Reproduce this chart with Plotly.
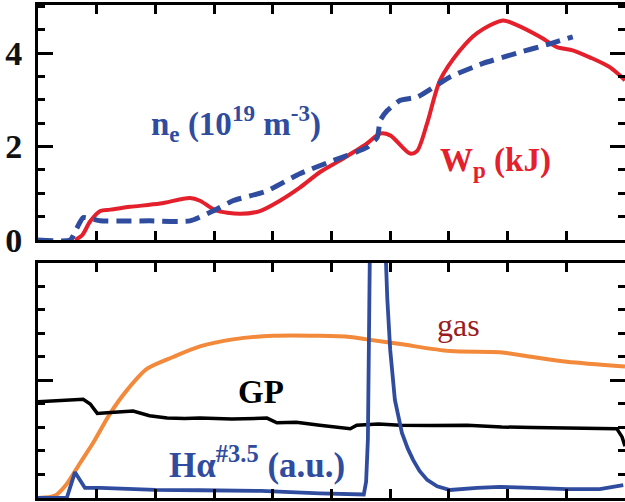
import plotly.graph_objects as go

# ---- top panel data ----
wp_x = [0.0, 0.63, 0.75, 0.89, 1.06, 1.23, 1.57, 2.08, 2.59, 2.76, 3.02, 3.44, 3.78, 4.12, 4.46,
        4.80, 5.14, 5.60, 5.83, 6.00, 6.34, 6.46, 6.63, 6.85, 7.19, 7.48, 7.92, 8.16, 8.55, 8.84,
        9.11, 9.40, 9.74, 10.0]
wp_y = [None, 0.0, 0.1, 0.4, 0.62, 0.65, 0.71, 0.78, 0.90, 0.84, 0.64, 0.56, 0.62, 0.84, 1.12,
        1.45, 1.70, 2.06, 2.28, 2.24, 1.85, 1.91, 2.50, 3.42, 4.06, 4.43, 4.70, 4.60, 4.35, 4.13,
        4.06, 3.91, 3.70, 3.42]

ne_x = [0.0, 0.55, 0.66, 0.77, 1.06, 1.90, 2.59, 2.98, 3.32, 3.90, 4.46, 5.03, 5.60, 5.78, 5.83,
        5.95, 6.17, 6.46, 7.02, 7.58, 8.16, 8.72, 9.11]
ne_y = [0.0, 0.0, 0.25, 0.48, 0.41, 0.41, 0.41, 0.62, 0.84, 1.05, 1.42, 1.70, 1.98, 2.20, 2.56,
        2.77, 2.99, 3.06, 3.49, 3.78, 4.00, 4.20, 4.35]

arrow_ne_x = 6.03
arrow_wp_x = 7.50

# ---- bottom panel data ----
gas_x = [0.0, 0.29, 0.49, 0.72, 0.94, 1.23, 1.52, 1.86, 2.30, 2.76, 3.32, 4.00, 4.80, 5.32, 5.60,
         6.17, 7.02, 7.87, 8.43, 9.01, 10.0]
gas_y = [0.0, 0.1, 0.6, 1.5, 2.35, 3.6, 4.6, 5.5, 6.0, 6.45, 6.75, 6.9, 6.9, 6.85, 6.75,
         6.55, 6.25, 6.2, 6.0, 5.8, 5.6]

gp_x = [0.0, 0.4, 0.77, 0.89, 1.01, 1.3, 1.62, 1.9, 2.2, 2.5, 2.76, 3.3, 3.9, 4.07, 4.4, 4.8,
        5.03, 5.32, 5.43, 5.8, 6.17, 6.7, 7.31, 7.9, 8.43, 9.0, 9.5, 9.86, 9.95, 10.0]
gp_y = [4.1, 4.15, 4.2, 4.0, 3.6, 3.65, 3.7, 3.5, 3.4, 3.38, 3.4, 3.36, 3.4, 3.2, 3.22, 3.1,
        3.05, 2.95, 3.1, 3.15, 3.1, 3.08, 3.1, 3.02, 3.0, 2.98, 2.95, 2.95, 2.6, 2.2]

ha_x = [0.0, 0.49, 0.63, 0.80, 1.06, 2.0, 2.76, 3.8, 4.8, 5.49, 5.55, 5.59, 5.62, 5.66, 5.90,
        5.95, 6.00, 6.08, 6.20, 6.30, 6.39, 6.50, 6.63, 6.80, 7.02, 7.48, 7.87, 8.43, 9.01, 9.57, 9.97]
ha_y = [0.0, 0.0, 1.1, 0.43, 0.43, 0.35, 0.33, 0.3, 0.2, 0.15, 0.15, 0.7, 2.5, 12.0, 12.0,
        8.5, 6.3, 4.17, 2.77, 2.1, 1.62, 1.15, 0.77, 0.5, 0.34, 0.43, 0.47, 0.43, 0.38, 0.38, 0.55]

top_ticks = [0, 2, 4]
top_ticktext = ["0", "2", "4"]

RED = "#E3202B"
BLUE = "#2F4C9E"
ORANGE = "#F2893B"
GASC = "#9A1C22"
FONT = "Liberation Serif, Times New Roman, serif"

fig = go.Figure()
fig.add_trace(go.Scatter(x=wp_x, y=wp_y, mode="lines",
                         line=dict(color=RED, width=4, shape="spline", smoothing=0.8),
                         xaxis="x", yaxis="y", showlegend=False))
fig.add_trace(go.Scatter(x=ne_x, y=ne_y, mode="lines",
                         line=dict(color=BLUE, width=5, dash="15px,8px", shape="spline", smoothing=0.5),
                         xaxis="x", yaxis="y", showlegend=False))
fig.add_trace(go.Scatter(x=gas_x, y=gas_y, mode="lines",
                         line=dict(color=ORANGE, width=4, shape="spline", smoothing=0.8),
                         xaxis="x2", yaxis="y2", showlegend=False))
fig.add_trace(go.Scatter(x=gp_x, y=gp_y, mode="lines", line=dict(color="black", width=3.5),
                         xaxis="x2", yaxis="y2", showlegend=False))
fig.add_trace(go.Scatter(x=ha_x, y=ha_y, mode="lines", line=dict(color=BLUE, width=3.8),
                         xaxis="x2", yaxis="y2", showlegend=False))
# dummy traces for right-side tick axes
fig.add_trace(go.Scatter(x=[None], y=[None], xaxis="x", yaxis="y3", showlegend=False))
fig.add_trace(go.Scatter(x=[None], y=[None], xaxis="x2", yaxis="y4", showlegend=False))

LW = 3
xcommon = dict(range=[0, 10], dtick=1, tick0=0, ticks="inside", ticklen=9, tickwidth=2.5,
               tickcolor="black", showline=True, linecolor="black", linewidth=LW,
               mirror="ticks", showticklabels=False, showgrid=False, zeroline=False,
               automargin=False)

top_dom = [0.5233, 1.0]
bot_dom = [0.0, 0.4767]

fig.update_layout(
    width=625, height=502, autosize=False,
    margin=dict(l=38, r=0, t=5, b=4, pad=0),
    paper_bgcolor="white", plot_bgcolor="white",
    font=dict(family=FONT, color="black"),
    xaxis=dict(domain=[0, 1], anchor="y", **xcommon),
    xaxis2=dict(domain=[0, 1], anchor="y2", **xcommon),
    yaxis=dict(domain=top_dom, anchor="x", range=[0, 5.03], tickvals=top_ticks,
               ticktext=top_ticktext, ticks="inside", ticklen=15, tickwidth=2.5,
               tickcolor="black", showline=True, linecolor="black", linewidth=LW,
               showgrid=False, zeroline=False, ticklabelstandoff=6, automargin=False,
               tickfont=dict(family=FONT, size=34, color="#111111", weight="bold"),
               minor=dict(dtick=0.5, tick0=0, ticks="inside", ticklen=7, tickwidth=2.5,
                          tickcolor="black", showgrid=False)),
    yaxis3=dict(overlaying="y", side="right", anchor="x", range=[0, 5.03],
                tickvals=top_ticks, ticks="inside", ticklen=15, tickwidth=2.5,
                tickcolor="black", showline=False, showticklabels=False,
                showgrid=False, zeroline=False, automargin=False,
                minor=dict(dtick=0.5, tick0=0, ticks="inside", ticklen=7, tickwidth=2.5,
                           tickcolor="black", showgrid=False)),
    yaxis2=dict(domain=bot_dom, anchor="x2", range=[0, 10], tickvals=[5], ticks="inside",
                ticklen=15, tickwidth=2.5, tickcolor="black", showline=True,
                linecolor="black", linewidth=LW, showticklabels=False, showgrid=False,
                zeroline=False, automargin=False,
                minor=dict(dtick=1, tick0=0, ticks="inside", ticklen=7, tickwidth=2.5,
                           tickcolor="black", showgrid=False)),
    yaxis4=dict(overlaying="y2", side="right", anchor="x2", range=[0, 10], tickvals=[5],
                ticks="inside", ticklen=15, tickwidth=2.5, tickcolor="black",
                showline=False, showticklabels=False, showgrid=False, zeroline=False,
                automargin=False,
                minor=dict(dtick=1, tick0=0, ticks="inside", ticklen=7, tickwidth=2.5,
                           tickcolor="black", showgrid=False)),
)

fig.add_annotation(x=3.37, y=2.5, xref="x", yref="y", showarrow=False,
                   text="<b>n<sub>e</sub> (10<sup>19</sup> m<sup>-3</sup>)</b>",
                   font=dict(family=FONT, size=33, color=BLUE))
fig.add_annotation(x=7.8, y=1.65, xref="x", yref="y", showarrow=False,
                   text="<b>W<sub>p</sub> (kJ)</b>",
                   font=dict(family=FONT, size=33, color=RED))
for ax_x, col in [(arrow_ne_x, BLUE), (arrow_wp_x, RED)]:
    fig.add_annotation(x=ax_x, y=-0.11, xref="x", yref="y", ax=0, ay=-50,
                       text="", showarrow=True, arrowhead=3, arrowwidth=4,
                       arrowsize=1.1, arrowcolor=col)

fig.add_annotation(x=7.16, y=7.36, xref="x2", yref="y2", showarrow=False,
                   text="gas", font=dict(family=FONT, size=32, color=GASC))
fig.add_annotation(x=3.8, y=4.5, xref="x2", yref="y2", showarrow=False,
                   text="<b>GP</b>", font=dict(family=FONT, size=33, color="black"))
fig.add_annotation(x=3.73, y=1.49, xref="x2", yref="y2", showarrow=False,
                   text="<b>H\u03b1<sup>#3.5</sup> (a.u.)</b>",
                   font=dict(family=FONT, size=35, color=BLUE))

fig.write_html("out.html")
